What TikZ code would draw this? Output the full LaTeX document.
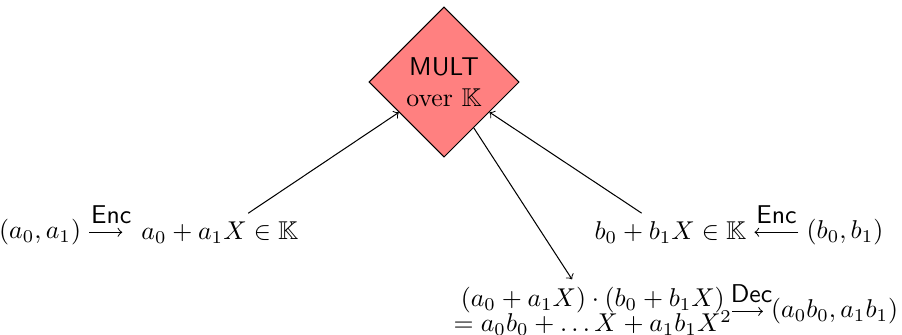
\documentclass[tikz,border=0pt]{standalone}
\usepackage{amsmath,amssymb}
\usepackage{tikz}
\usetikzlibrary{positioning,shapes.geometric}
\tikzset{
  opbox/.style={diamond,draw,fill=red!50,aspect=1,minimum size=2.05cm,
    inner sep=1pt,align=center},
  term/.style={inner sep=3pt,align=center},
  flow/.style={->},
  enclbl/.style={above,inner sep=3pt,font=\sffamily}
}
\begin{document}
\begin{tikzpicture}[node distance=6mm]
  \useasboundingbox (0,0) rectangle (12.31,-4.57);
  \node[opbox] (mult) at (6.06,-1.12) {\textsf{MULT}\\over $\mathbb{K}$};
  \node[term] (apoly) at (3.0,-3.17) {$a_0+a_1X\in\mathbb{K}$};
  \node[term,left=of apoly] (apair) {$(a_0,a_1)$};
  \node[term] (bpoly) at (9.15,-3.17) {$b_0+b_1X\in\mathbb{K}$};
  \node[term,right=of bpoly] (bpair) {$(b_0,b_1)$};
  \node[term] (prod) at (8.09,-4.25) {$(a_0+a_1X)\cdot(b_0+b_1X)$\\[-2.5pt]
    $=a_0b_0+\ldots X+a_1b_1X^2$};
  \node[term,right=3.1mm of prod] (res) {$(a_0b_0,a_1b_1)$};
  \draw[flow,shorten >=1.5mm] (apair)--node[enclbl] {Enc}(apoly);
  \draw[flow] (bpair)--node[enclbl] {Enc}(bpoly);
  \draw[flow,shorten <=-1.1mm] (prod.east|-res)--node[enclbl] {Dec}(res);
  \draw[flow] (apoly)--(mult);
  \draw[flow] (bpoly)--(mult);
  \draw[flow] (mult)--(prod);
\end{tikzpicture}
\end{document}
